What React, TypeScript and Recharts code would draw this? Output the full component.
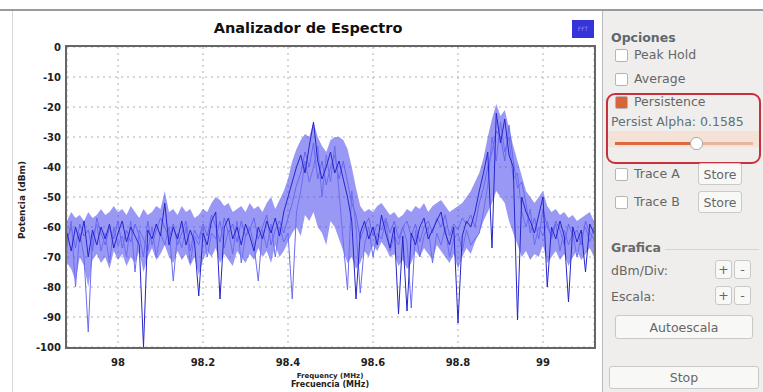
import { ComposedChart, Area, Line, XAxis, YAxis, CartesianGrid } from "recharts"

// FFT bins, 10 kHz apart, starting at the left edge of the plot
const START_MHZ = 97.88
const STEP_MHZ = 0.01

// top of the persistence cloud (dBm)
const envelopeHigh = [
  -58, -55, -57, -56, -58, -55, -57, -56, -54, -56, -55, -53, -55, -54, -56, -53, -55, -57, -54, -56,
  -55, -53, -54, -48, -55, -54, -56, -53, -55, -54, -57, -56, -54, -55, -52, -50, -51, -53, -52, -55,
  -54, -53, -55, -52, -54, -53, -55, -52, -50, -54, -51, -48, -44, -38, -34, -31, -29, -30, -25, -30,
  -33, -35, -31, -30, -30, -31, -34, -40, -47, -53, -55, -54, -55, -53, -52, -54, -56, -55, -57, -56,
  -54, -55, -53, -54, -52, -55, -53, -52, -51, -53, -55, -54, -53, -52, -50, -48, -45, -42, -37, -30,
  -24, -19, -23, -21, -27, -33, -38, -43, -48, -50, -52, -50, -48, -53, -55, -54, -56, -55, -57, -56,
  -58, -57, -56, -55, -58,
]

// bottom of the persistence cloud (dBm)
const envelopeLow = [
  -72, -74, -78, -70, -73, -80, -71, -69, -72, -70, -74, -68, -71, -69, -73, -70, -72, -68, -75, -70,
  -67, -71, -69, -66, -70, -72, -68, -71, -69, -73, -70, -76, -71, -68, -70, -67, -72, -69, -71, -73,
  -68, -70, -72, -69, -71, -67, -70, -68, -72, -66, -70, -68, -65, -62, -60, -63, -56, -58, -55, -60,
  -62, -66, -58, -60, -64, -68, -72, -70, -74, -72, -68, -70, -66, -68, -65, -67, -70, -69, -73, -71,
  -74, -72, -68, -70, -67, -69, -71, -66, -68, -70, -72, -69, -74, -70, -67, -69, -65, -62, -58, -55,
  -52, -48, -50, -52, -58, -62, -66, -70, -68, -71, -69, -70, -66, -72, -70, -68, -71, -69, -73, -70,
  -68, -71, -69, -67, -70,
]

// latest sweep (dBm)
const traceMain = [
  -62, -68, -60, -65, -58, -70, -61, -66, -60, -64, -59, -67, -62, -58, -65, -60, -63, -66, -100, -61,
  -64, -59, -63, -52, -66, -60, -64, -58, -66, -61, -65, -83, -62, -66, -58, -55, -84, -60, -57, -64,
  -60, -66, -59, -63, -68, -60, -64, -58, -62, -57, -63, -55, -50, -45, -40, -36, -42, -33, -25, -38,
  -44, -40, -35, -42, -38, -44, -50, -58, -84, -62, -58, -64, -60, -66, -56, -62, -67, -60, -89, -63,
  -88, -62, -66, -60, -57, -64, -61, -58, -55, -62, -66, -60, -92, -63, -58, -60, -55, -48, -42, -35,
  -67, -22, -32, -24, -36, -40, -91, -50, -55, -58, -62, -56, -50, -80, -60, -64, -58, -63, -85, -60,
  -65, -61, -75, -59, -62,
]

// older sweeps kept by persistence (dBm)
const tracePersist = [
  -66, -58, -80, -62, -70, -95, -63, -59, -68, -62, -72, -60, -66, -63, -70, -58, -75, -61, -64, -68,
  -60, -70, -62, -66, -60, -78, -62, -67, -60, -72, -63, -66, -60, -70, -62, -64, -58, -67, -61, -69,
  -58, -72, -63, -60, -66, -78, -61, -67, -59, -70, -60, -65, -62, -84, -55, -48, -38, -45, -40, -33,
  -50, -36, -45, -33, -48, -65, -81, -48, -60, -82, -66, -60, -70, -62, -64, -58, -68, -63, -66, -60,
  -65, -87, -61, -70, -63, -60, -72, -62, -66, -60, -70, -64, -62, -68, -61, -66, -64, -62, -55, -46,
  -30, -38, -25, -35, -30, -44, -42, -55, -60, -54, -66, -60, -63, -58, -64, -59, -68, -61, -66, -62,
  -70, -63, -60, -65, -60,
]

const tracePersist2 = [
  -64, -60, -67, -59, -63, -61, -68, -57, -62, -66, -60, -64, -58, -67, -61, -65, -59, -63, -70, -58,
  -66, -61, -57, -60, -64, -59, -66, -62, -58, -68, -61, -64, -59, -63, -56, -60, -65, -57, -62, -59,
  -65, -58, -63, -61, -57, -64, -60, -56, -66, -61, -58, -62, -57, -52, -46, -42, -35, -40, -32, -44,
  -38, -46, -40, -36, -44, -38, -45, -52, -56, -64, -60, -57, -63, -59, -61, -57, -62, -58, -64, -60,
  -58, -63, -59, -65, -60, -58, -62, -57, -60, -56, -63, -59, -61, -57, -59, -56, -60, -52, -47, -40,
  -35, -28, -30, -38, -26, -38, -47, -45, -52, -62, -57, -64, -54, -60, -63, -58, -61, -66, -59, -63,
  -61, -66, -58, -62, -64,
]

const freqTicks = [98, 98.2, 98.4, 98.6, 98.8, 99]
const dbmTicks = [0, -10, -20, -30, -40, -50, -60, -70, -80, -90, -100]

const data = envelopeHigh.map((hi, i) => ({
  freq: +(START_MHZ + i * STEP_MHZ).toFixed(2),
  band: [envelopeLow[i], hi],
  main: traceMain[i],
  persist: tracePersist[i],
  persist2: tracePersist2[i],
}))

const tickStyle = { fontSize: 10, fontWeight: 700, fill: "#222", fontFamily: "DejaVu Sans" }
const panelText = { position: "absolute" as const, fontFamily: "DejaVu Sans", fontSize: 12.5, color: "#666" }

function CheckBox({ x, y, checked }: { x: number; y: number; checked?: boolean }) {
  return (
    <div
      style={{
        position: "absolute",
        left: x,
        top: y,
        width: 11,
        height: 11,
        border: "1px solid #b5b5b5",
        borderRadius: 2,
        background: checked ? "#d8643a" : "#fff",
      }}
    />
  )
}

function Button({ x, y, w, h, label }: { x: number; y: number; w: number; h: number; label: string }) {
  return (
    <div
      style={{
        position: "absolute",
        left: x,
        top: y,
        width: w,
        height: h,
        boxSizing: "border-box",
        border: "1px solid #c9c9c9",
        borderRadius: 3,
        background: "#f8f8f7",
        fontFamily: "DejaVu Sans",
        fontSize: 12.5,
        color: "#666",
        display: "flex",
        alignItems: "center",
        justifyContent: "center",
      }}
    >
      {label}
    </div>
  )
}

export default function App() {
  return (
    <div style={{ position: "fixed", left: 0, top: 0, width: 763, height: 392, background: "#fff", overflow: "hidden" }}>
      <div style={{ position: "absolute", left: 0, top: 9, width: 763, height: 2, background: "#9a9a9a" }} />
      <div style={{ position: "absolute", left: 12, top: 11, width: 1, height: 381, background: "#d6d6d6" }} />

      <div style={{ position: "absolute", left: 0, top: 0 }}>
        <ComposedChart width={600} height={392} data={data} margin={{ top: 47, right: 6, bottom: 15, left: 0 }}>
          <CartesianGrid stroke="#b0b0b0" strokeDasharray="2 4" />
          <XAxis
            dataKey="freq"
            type="number"
            domain={[97.88, 99.12]}
            ticks={freqTicks}
            allowDataOverflow
            height={30}
            axisLine={false}
            tickLine={false}
            tick={tickStyle}
            tickMargin={6}
          />
          <YAxis
            type="number"
            domain={[-100, 0]}
            ticks={dbmTicks}
            allowDataOverflow
            width={67}
            axisLine={false}
            tickLine={false}
            tick={tickStyle}
            tickMargin={0}
          />
          <Area dataKey="band" type="linear" stroke="none" fill="#3434ec" fillOpacity={0.5} isAnimationActive={false} />
          <Line dataKey="persist2" type="linear" stroke="#5a5af0" strokeOpacity={0.8} strokeWidth={1} dot={false} isAnimationActive={false} />
          <Line dataKey="persist" type="linear" stroke="#6c6cf2" strokeWidth={1} dot={false} isAnimationActive={false} />
          <Line dataKey="main" type="linear" stroke="#2525cc" strokeWidth={1} dot={false} isAnimationActive={false} />
        </ComposedChart>
      </div>

      {/* plot frame */}
      <div
        style={{
          position: "absolute",
          left: 65,
          top: 45,
          width: 531,
          height: 304,
          boxSizing: "border-box",
          border: "2px solid #666",
          pointerEvents: "none",
        }}
      />

      <div
        style={{
          position: "absolute",
          left: 158,
          top: 20,
          width: 300,
          textAlign: "center",
          fontFamily: "DejaVu Sans",
          fontWeight: 700,
          fontSize: 14.5,
          color: "#111",
        }}
      >
        Analizador de Espectro
      </div>
      <div
        style={{
          position: "absolute",
          left: 572,
          top: 20,
          width: 22,
          height: 18,
          background: "#3434d8",
          color: "#8888ff",
          fontSize: 6,
          fontFamily: "DejaVu Sans",
          textAlign: "center",
          lineHeight: "18px",
        }}
      >
        FFT
      </div>

      <div
        style={{
          position: "absolute",
          left: 22,
          top: 200,
          transform: "translate(-50%, -50%) rotate(-90deg)",
          whiteSpace: "nowrap",
          fontFamily: "DejaVu Sans",
          fontWeight: 700,
          fontSize: 9,
          color: "#222",
        }}
      >
        Potencia (dBm)
      </div>
      <div
        style={{
          position: "absolute",
          left: 280,
          top: 372,
          width: 100,
          textAlign: "center",
          fontFamily: "DejaVu Sans",
          fontWeight: 700,
          fontSize: 7,
          color: "#222",
        }}
      >
        Frequency (MHz)
      </div>
      <div
        style={{
          position: "absolute",
          left: 280,
          top: 380,
          width: 100,
          textAlign: "center",
          fontFamily: "DejaVu Sans",
          fontWeight: 700,
          fontSize: 8,
          color: "#222",
        }}
      >
        Frecuencia (MHz)
      </div>

      {/* control panel */}
      <div style={{ position: "absolute", left: 602, top: 11, width: 161, height: 381, background: "#efeeec", borderLeft: "1px solid #b8b8b8" }}>
        <div style={{ ...panelText, left: 8, top: 19, fontWeight: 700, color: "#5d6870" }}>Opciones</div>
        <CheckBox x={12} y={38} />
        <div style={{ ...panelText, left: 31, top: 36 }}>Peak Hold</div>
        <CheckBox x={12} y={62} />
        <div style={{ ...panelText, left: 31, top: 60 }}>Average</div>

        <div style={{ position: "absolute", left: 4, top: 120, width: 154, height: 16, background: "#f4e2d6" }} />
        <CheckBox x={12} y={85} checked />
        <div style={{ ...panelText, left: 31, top: 83 }}>Persistence</div>
        <div style={{ ...panelText, left: 8, top: 103, color: "#5e7078" }}>Persist Alpha: 0.1585</div>
        <div style={{ position: "absolute", left: 12, top: 131, width: 80, height: 3, background: "#dc6a3e" }} />
        <div style={{ position: "absolute", left: 92, top: 131, width: 58, height: 3, background: "#e8b4a4" }} />
        <div
          style={{
            position: "absolute",
            left: 87,
            top: 126,
            width: 11,
            height: 11,
            borderRadius: 6,
            background: "#fff",
            border: "1px solid #aaa",
          }}
        />
        <div
          style={{
            position: "absolute",
            left: 3,
            top: 82,
            width: 155,
            height: 71,
            boxSizing: "border-box",
            border: "2px solid #c9303d",
            borderRadius: 9,
          }}
        />

        <CheckBox x={12} y={157} />
        <div style={{ ...panelText, left: 31, top: 155 }}>Trace A</div>
        <Button x={95} y={152} w={44} h={22} label="Store" />
        <CheckBox x={12} y={185} />
        <div style={{ ...panelText, left: 31, top: 183 }}>Trace B</div>
        <Button x={95} y={180} w={44} h={22} label="Store" />

        <div style={{ ...panelText, left: 8, top: 229, fontWeight: 700, color: "#6a6a6a" }}>Grafica</div>
        <div style={{ position: "absolute", left: 62, top: 238, width: 94, height: 1, background: "#d4d4d4" }} />
        <div style={{ ...panelText, left: 8, top: 252 }}>dBm/Div:</div>
        <Button x={112} y={249} w={17} h={19} label="+" />
        <Button x={131} y={249} w={17} h={19} label="-" />
        <div style={{ ...panelText, left: 8, top: 278 }}>Escala:</div>
        <Button x={112} y={275} w={17} h={19} label="+" />
        <Button x={131} y={275} w={17} h={19} label="-" />
        <Button x={12} y={304} w={138} h={24} label="Autoescala" />
        <Button x={6} y={355} w={150} h={23} label="Stop" />
      </div>
    </div>
  )
}
